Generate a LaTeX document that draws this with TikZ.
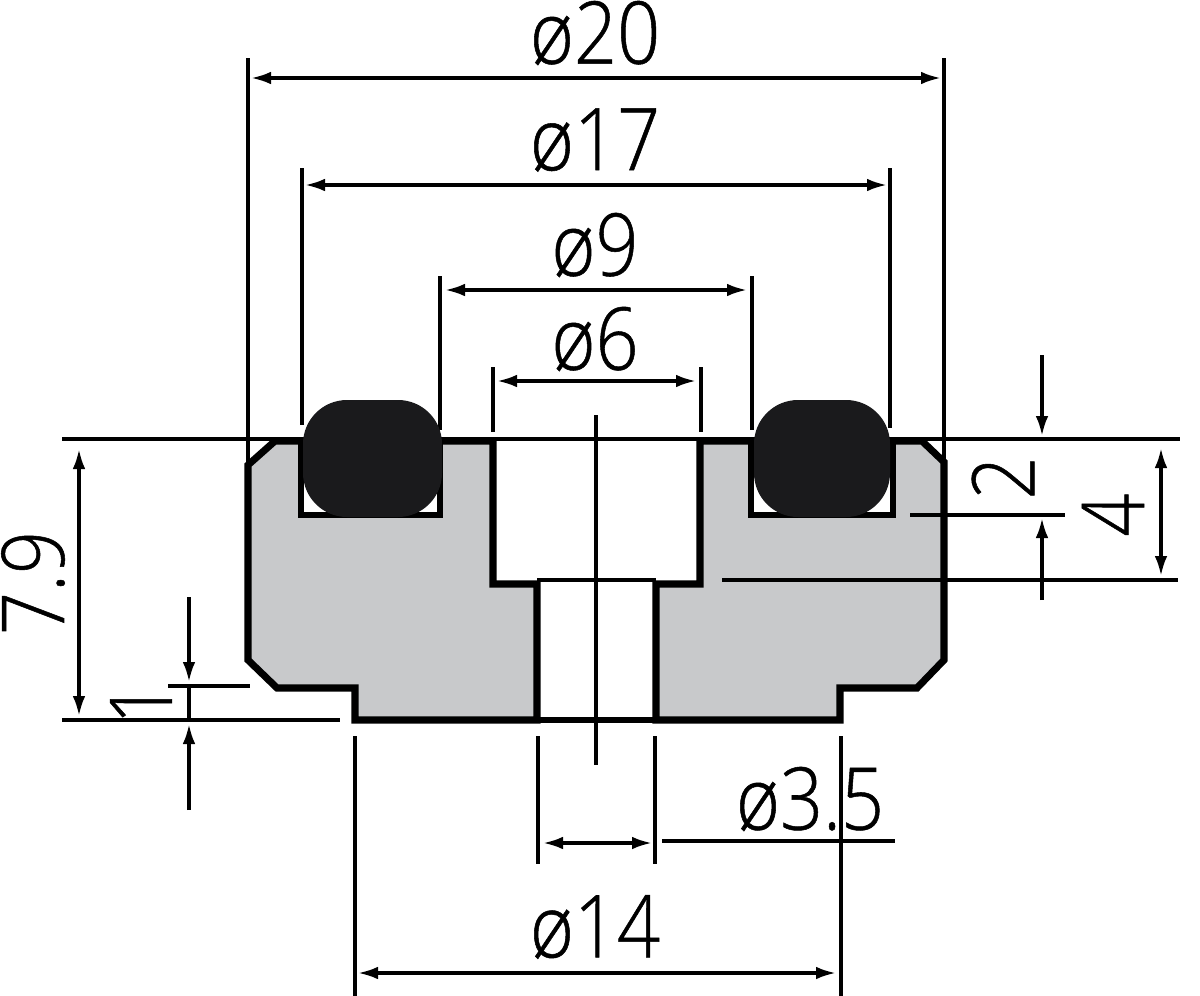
\documentclass[tikz,border=0pt]{standalone}
\usepackage{fontspec}
\newfontfamily\dimfont[FakeStretch=.87,FakeBold=.6]{Open Sans Light}
\usetikzlibrary{arrows.meta}

\begin{document}
\begin{tikzpicture}[
        x=0.75pt, y=-0.75pt,
        body/.style={draw=black, fill=bodygray, line width=5.3pt, line join=miter},
        groove/.style={draw=black, fill=white, line width=4.2pt},
        seal/.style={fill=sealblack, rounded corners=33pt},
        thin line/.style={draw=black, line width=2.5pt},
        arrow/.style={thin line, {Latex[length=15pt, width=9.5pt]}-{Latex[length=15pt, width=9.5pt]}},
        single/.style={thin line, -{Latex[length=15pt, width=9.5pt]}},
        dimtext/.style={font=\dimfont\fontsize{65pt}{65pt}\selectfont, inner sep=0pt, text=black}
    ]
    \definecolor{bodygray}{HTML}{C8C9CB}
    \definecolor{sealblack}{HTML}{1A1A1C}
    \useasboundingbox (0,0) rectangle (1200,996);

    % Body
    \path [body] (248,465) -- (275,441) -- (493,441) -- (493,584) -- (537,584) -- (537,720) -- (355,720) -- (355,688) -- (277,688) -- (248,660) -- cycle;
    \path [body] (944,462) -- (922,441) -- (700,441) -- (700,584) -- (656,584) -- (656,720) -- (840,720) -- (840,688) -- (917,688) -- (944,660) -- cycle;
    \draw [line width=2.6pt] (537,580) -- (656,580);
    \draw [line width=5pt] (537,720) -- (656,720);

    % Grooves
    \path [groove] (301,441) -- (301,515) -- (440,515) -- (440,441);
    \path [groove] (751,441) -- (751,515) -- (893,515) -- (893,441);

    % Nodes
    \node (d20) [dimtext] at (595,33) {ø20};
    \node (d17) [dimtext] at (595,140) {ø17};
    \node (d9) [dimtext] at (595,245) {ø9};
    \node (d6) [dimtext] at (595,339) {ø6};
    \node (d35) [dimtext] at (810,799) {ø3.5};
    \node (d14) [dimtext] at (595,927) {ø14};
    \node (h79) [dimtext, rotate=90] at (33,583) {7.9};
    \node (h1) [dimtext, rotate=90] at (141,703) {1};
    \node (h2) [dimtext, rotate=90] at (1003,478) {2};
    \node (h4) [dimtext, rotate=90] at (1113,515) {4};

    % Coordinates
    \coordinate (e20a) at (248,58);   \coordinate (e20b) at (248,465);
    \coordinate (e20c) at (944,58);   \coordinate (e20d) at (944,462);
    \coordinate (e17a) at (302,168);  \coordinate (e17b) at (302,425);
    \coordinate (e17c) at (890,168);  \coordinate (e17d) at (890,428);
    \coordinate (e9a) at (440,276);   \coordinate (e9b) at (440,430);
    \coordinate (e9c) at (752,276);   \coordinate (e9d) at (752,430);
    \coordinate (e6a) at (493,367);   \coordinate (e6b) at (493,432);
    \coordinate (e6c) at (701,367);   \coordinate (e6d) at (701,432);
    \coordinate (e35a) at (538,736);  \coordinate (e35b) at (538,864);
    \coordinate (e35c) at (655,736);  \coordinate (e35d) at (655,864);
    \coordinate (e14a) at (355,736);  \coordinate (e14b) at (355,996);
    \coordinate (e14c) at (841,736);  \coordinate (e14d) at (841,996);
    \coordinate (axisa) at (596,415); \coordinate (axisb) at (596,765);

    \coordinate (top1) at (62,439);   \coordinate (top2) at (1180,439);
    \coordinate (low1) at (62,720);   \coordinate (low2) at (340,720);
    \coordinate (step1) at (168,686); \coordinate (step2) at (250,686);
    \coordinate (grv1) at (910,515);  \coordinate (grv2) at (1065,515);
    \coordinate (bore1) at (722,580); \coordinate (bore2) at (1178,580);
    \coordinate (lead1) at (662,841); \coordinate (lead2) at (895,841);

    % Extension lines
    \draw [thin line] (e20a) -- (e20b);
    \draw [thin line] (e20c) -- (e20d);
    \draw [thin line] (e17a) -- (e17b);
    \draw [thin line] (e17c) -- (e17d);
    \draw [thin line] (e9a) -- (e9b);
    \draw [thin line] (e9c) -- (e9d);
    \draw [thin line] (e6a) -- (e6b);
    \draw [thin line] (e6c) -- (e6d);
    \draw [thin line] (e35a) -- (e35b);
    \draw [thin line] (e35c) -- (e35d);
    \draw [thin line] (e14a) -- (e14b);
    \draw [thin line] (e14c) -- (e14d);
    \draw [thin line] (axisa) -- (axisb);
    \draw [thin line] (top1) -- (top2);
    \draw [thin line] (low1) -- (low2);
    \draw [thin line] (step1) -- (step2);
    \draw [thin line] (grv1) -- (grv2);
    \draw [thin line] (bore1) -- (bore2);
    \draw [thin line] (lead1) -- (lead2);

    % Seals
    \fill [seal] (303,400) rectangle (442,517);
    \fill [seal] (754,400) rectangle (890,517);

    % Arrows
    \coordinate (a20l) at (251,78);   \coordinate (a20r) at (941,78);
    \coordinate (a17l) at (305,185);  \coordinate (a17r) at (887,185);
    \coordinate (a9l) at (445,290);   \coordinate (a9r) at (747,290);
    \coordinate (a6l) at (497,381);   \coordinate (a6r) at (696,381);
    \coordinate (a35l) at (543,843);  \coordinate (a35r) at (652,843);
    \coordinate (a14l) at (358,973);  \coordinate (a14r) at (836,973);
    \coordinate (a79t) at (79,449);   \coordinate (a79b) at (79,716);
    \coordinate (a4t) at (1161,448);  \coordinate (a4b) at (1161,576);
    \coordinate (a1a) at (189,597);   \coordinate (a1b) at (189,682);
    \coordinate (a1c) at (189,810);   \coordinate (a1d) at (189,724);
    \coordinate (a2a) at (1042,355);  \coordinate (a2b) at (1042,436);
    \coordinate (a2c) at (1042,600);  \coordinate (a2d) at (1042,518);

    \draw [arrow] (a20l) -- (a20r);
    \draw [arrow] (a17l) -- (a17r);
    \draw [arrow] (a9l) -- (a9r);
    \draw [arrow] (a6l) -- (a6r);
    \draw [arrow] (a35l) -- (a35r);
    \draw [arrow] (a14l) -- (a14r);
    \draw [arrow] (a79t) -- (a79b);
    \draw [arrow] (a4t) -- (a4b);
    \draw [single] (a1a) -- (a1b);
    \draw [single] (a1c) -- (a1d);
    \draw [thin line] (step1 -| a1a) -- (low1 -| a1a);
    \draw [single] (a2a) -- (a2b);
    \draw [single] (a2c) -- (a2d);
\end{tikzpicture}
\end{document}
